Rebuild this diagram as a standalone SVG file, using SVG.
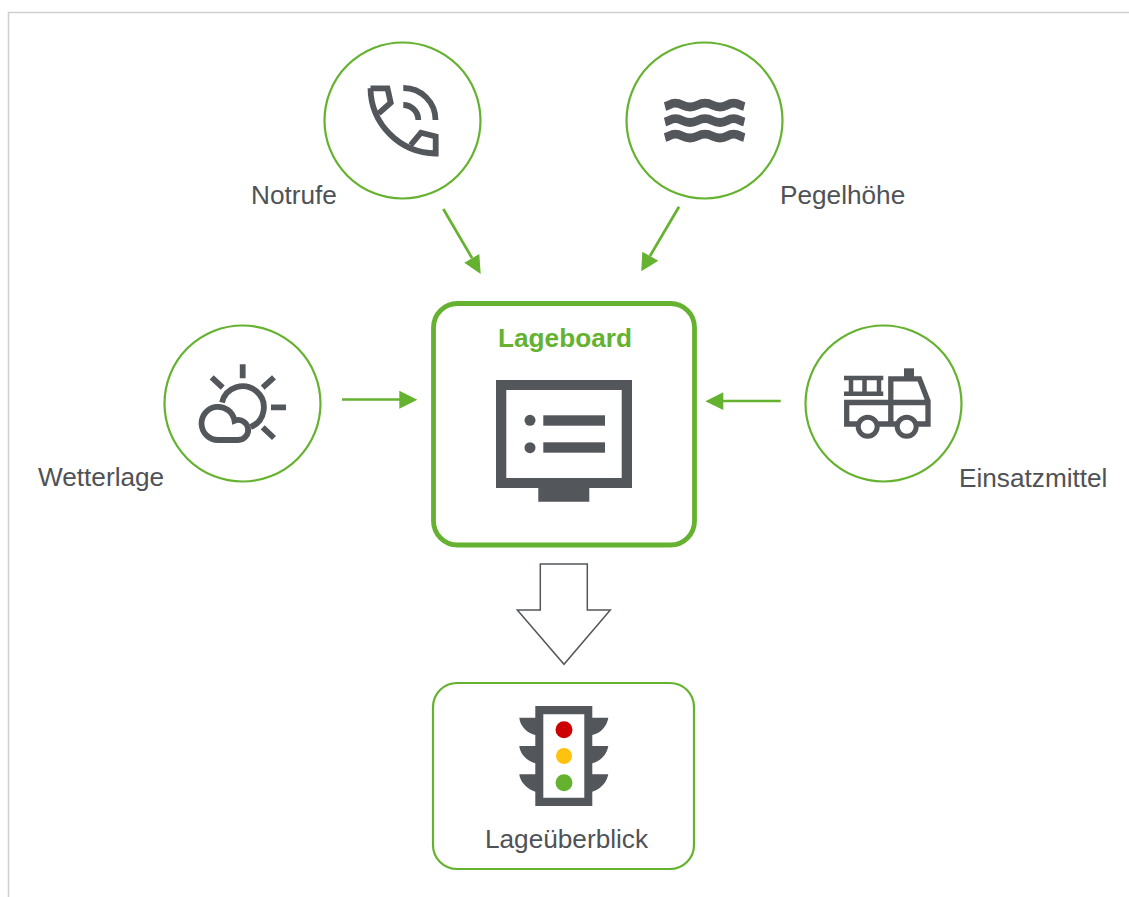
<svg xmlns="http://www.w3.org/2000/svg" width="1129" height="897" viewBox="0 0 1129 897">
<style>
.t{font-family:"Liberation Sans",Arial,sans-serif;font-size:26.2px;fill:#4f5256}
.ring{fill:#fff;stroke:#64b22f;stroke-width:2.2}
.ico{fill:none;stroke:#53565a;stroke-width:5.8}
.dark{fill:#53565a}
.link{stroke:#64b22f;stroke-width:2.7;fill:none}
.head{fill:#64b22f}
</style>
<rect width="1129" height="897" fill="#fff"/>
<path d="M8.500 897V12.500H1129" fill="none" stroke="#cfcfcf" stroke-width="1.500"/>
<g id="connectors">
<path class="link" d="M443.300 209L472 258"/><polygon class="head" points="480.700,274 464.300,262.700 479.300,254"/>
<path class="link" d="M679 206.700L650 256"/><polygon class="head" points="641.300,271.300 642.300,251.700 658.300,260.700"/>
<path class="link" d="M342 399.500H402"/><polygon class="head" points="417.300,399.700 399.300,390.700 399.300,408.700"/>
<path class="link" d="M780.700 401H720"/><polygon class="head" points="705.300,401.200 723.300,392.300 723.300,410"/>
<polygon id="flow-arrow" points="540.300,564 587.300,564 587.300,610 610.300,610 564,664.300 517.300,610 540.300,610" fill="#fff" stroke="#53565a" stroke-width="1.500"/>
</g>
<g id="notrufe">
<circle class="ring" cx="402.500" cy="120.500" r="78"/>
<path class="ico" d="M370.500 88.300H387.500L390.700 102.700L378.700 113.300M370.500 88.300A66 66 0 0 0 435.700 153.500V136.500L421 132.700L410.700 145"/>
<path class="ico" d="M403.300 88A32 32 0 0 1 435.500 120M403.300 105A15 15 0 0 1 418.300 120"/>
<text class="t" x="251" y="204">Notrufe</text>
</g>
<g id="pegelhoehe">
<circle class="ring" cx="704.500" cy="120.500" r="78"/>
<g class="ico" style="stroke-width:8.800">
<path d="M665 106.500C669 105.500 671 103.200 675 103.200C682 103.200 683 107 690 107C697 107 698 103.200 705 103.200C712 103.200 713 107 720 107C727 107 727 103.200 734 103.200C738 103.200 740 105.500 744.300 106.500"/>
<path d="M665 122C669 121 671 118.700 675 118.700C682 118.700 683 122.500 690 122.500C697 122.500 698 118.700 705 118.700C712 118.700 713 122.500 720 122.500C727 122.500 727 118.700 734 118.700C738 118.700 740 121 744.300 122"/>
<path d="M665 137.500C669 136.500 671 134.200 675 134.200C682 134.200 683 138 690 138C697 138 698 134.200 705 134.200C712 134.200 713 138 720 138C727 138 727 134.200 734 134.200C738 134.200 740 136.500 744.300 137.500"/>
</g>
<text class="t" x="780" y="204">Pegelhöhe</text>
</g>
<g id="wetterlage">
<circle class="ring" cx="242.500" cy="403.500" r="78"/>
<path class="ico" d="M242.700 364.300V378.300M211.700 377.300L222.700 387.700M274 377.300L262.700 387.700M271 407.300H286M262.700 427.300L274 438"/>
<path class="ico" d="M222 402.500A21.200 21.200 0 1 1 250.700 427"/>
<path class="ico" d="M218.600 440H238A10 10 0 1 0 234.500 420.700A16.600 16.600 0 1 0 218.600 440Z"/>
<text class="t" x="38" y="486">Wetterlage</text>
</g>
<g id="einsatzmittel">
<circle class="ring" cx="883.500" cy="403.500" r="78"/>
<rect class="dark" x="904" y="368.300" width="10" height="9"/>
<path class="ico" d="M844 378H883.300M844 393.800H883.300M851 378V393.800M864.500 378V393.800M879 378V393.800" style="stroke-width:4.500"/>
<path class="ico" d="M846.700 402.500H928V424H846.700ZM890.800 424V378.800H919.500L928 401" style="stroke-width:5.300"/>
<circle cx="867.700" cy="426.700" r="9.500" fill="#fff" stroke="#53565a" stroke-width="5"/>
<circle cx="906.700" cy="426.700" r="9.500" fill="#fff" stroke="#53565a" stroke-width="5"/>
<text class="t" x="959" y="487">Einsatzmittel</text>
</g>
<g id="lageboard">
<rect x="433.500" y="303.500" width="261" height="241.500" rx="24" fill="#fff" stroke="#64b22f" stroke-width="4.800"/>
<text x="565" y="347" text-anchor="middle" style="font-family:'Liberation Sans',Arial,sans-serif;font-size:26.200px;font-weight:700;fill:#64b22f">Lageboard</text>
<path class="dark" fill-rule="evenodd" d="M496 380H632V488H589.300V501.700H538.300V488H496ZM506.300 390V478H621.700V390Z"/>
<circle class="dark" cx="530" cy="420.300" r="5.500"/><circle class="dark" cx="530" cy="447.700" r="5.500"/>
<rect class="dark" x="543.300" y="415.300" width="61.700" height="10.400"/><rect class="dark" x="543.300" y="442.300" width="61.700" height="10.400"/>
</g>
<g id="lageueberblick">
<rect x="433" y="683" width="261" height="186" rx="24" fill="#fff" stroke="#64b22f" stroke-width="2.200"/>
<path class="dark" fill-rule="evenodd" d="M535.300 706H592.300V717.700H608.300C607 726 601 733 592.300 735V746H608.300C607 754 601 761 592.300 763.300V774.300H608.300C607 782 601 789 592.300 791.700V806H535.300V791.700C527 789 520 782 519.300 774.300H535.300V763.300C527 761 520 754 519.300 746H535.300V735C527 733 520 726 519.300 717.700H535.300ZM543.300 714.300V797.700H584.300V714.300Z"/>
<circle cx="564" cy="729.700" r="8.500" fill="#cc0000"/>
<circle cx="564" cy="756" r="8" fill="#ffc20e"/>
<circle cx="564" cy="782.700" r="8.500" fill="#64b22f"/>
<text class="t" x="566.500" y="847.700" text-anchor="middle">Lageüberblick</text>
</g>
</svg>
